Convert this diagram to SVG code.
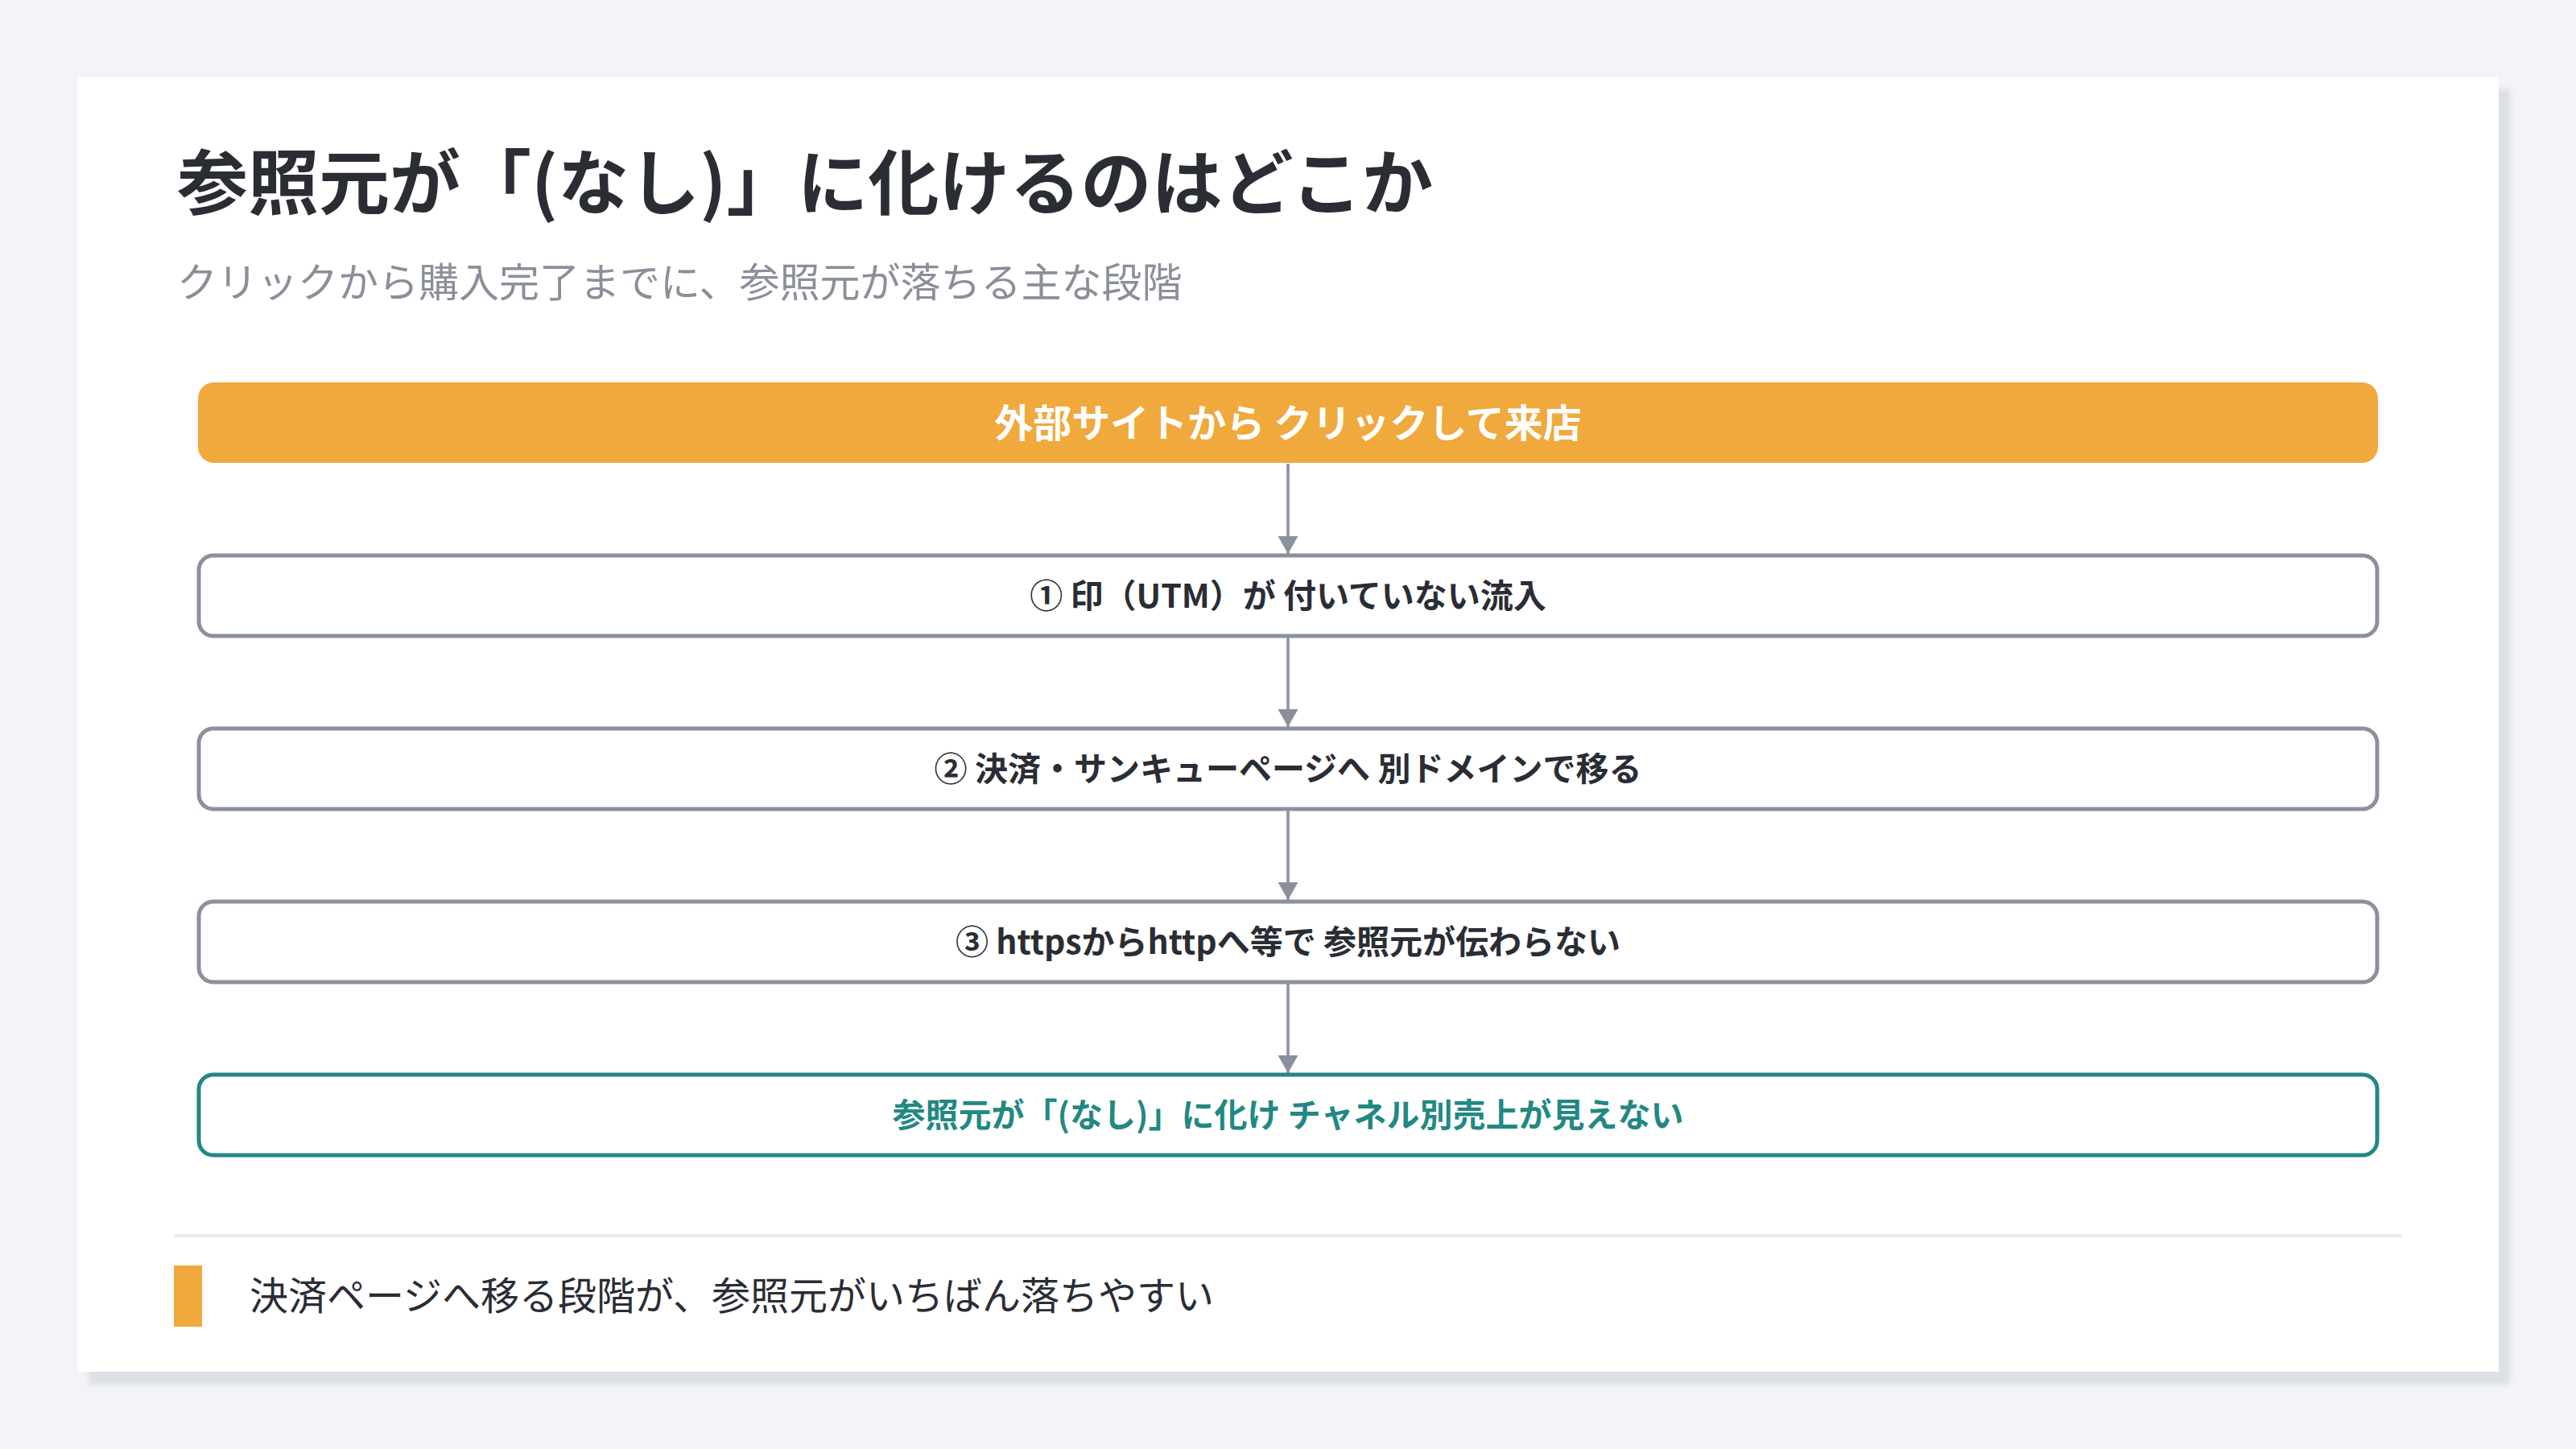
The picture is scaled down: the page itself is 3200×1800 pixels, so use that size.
<svg xmlns="http://www.w3.org/2000/svg" width="3200" height="1800" viewBox="0 0 3200 1800">
  <style>
    .jp { font-family: "Noto Sans CJK JP", "Noto Sans", sans-serif; }
    .title { font-size: 88px; font-weight: 700; fill: #2a2d34; }
    .sub { font-size: 50px; font-weight: 400; fill: #8a8f99; }
    .box { fill: #ffffff; stroke: #8a919d; stroke-width: 5; }
    .boxtxt { font-size: 41px; font-weight: 700; fill: #2a2d34; text-anchor: middle; }
    .conn { stroke: #8a919d; stroke-width: 3.5; fill: none; }
    .foot { font-size: 48px; font-weight: 400; fill: #2a2d34; }
  </style>
  <defs>
    <marker id="arr" markerUnits="userSpaceOnUse" markerWidth="26" markerHeight="26" refX="22" refY="12.5" orient="auto">
      <path d="M0,0 L22,12.5 L0,25 Z" fill="#8a919d"/>
    </marker>
    <filter id="sh" x="-5%" y="-5%" width="110%" height="110%">
      <feGaussianBlur stdDeviation="3"/>
    </filter>
  </defs>
  <rect x="0" y="0" width="3200" height="1800" fill="#f3f4f8"/>
  <rect x="110" y="110" width="3008" height="1610" fill="#dcdfe6" filter="url(#sh)"/>
  <rect x="96" y="96" width="3008" height="1608" fill="#ffffff"/>

  <text class="jp title" x="220" y="259">参照元が「(なし)」に化けるのはどこか</text>
  <text class="jp sub" x="220" y="369">クリックから購入完了までに、参照元が落ちる主な段階</text>

  <g id="connectors">
    <line class="conn" x1="1600" y1="576" x2="1600" y2="688" marker-end="url(#arr)"/>
    <line class="conn" x1="1600" y1="792" x2="1600" y2="903" marker-end="url(#arr)"/>
    <line class="conn" x1="1600" y1="1007" x2="1600" y2="1118" marker-end="url(#arr)"/>
    <line class="conn" x1="1600" y1="1222" x2="1600" y2="1333" marker-end="url(#arr)"/>
  </g>

  <g id="node-start">
    <rect x="246" y="475" width="2708" height="100" rx="20" fill="#efa93c"/>
    <text class="jp boxtxt" x="1600" y="543" style="font-size:48px; fill:#ffffff">外部サイトから クリックして来店</text>
  </g>
  <g id="node-1">
    <rect class="box" x="247" y="690" width="2706" height="100" rx="18"/>
    <text class="jp boxtxt" x="1600" y="755">① 印（UTM）が 付いていない流入</text>
  </g>
  <g id="node-2">
    <rect class="box" x="247" y="905" width="2706" height="100" rx="18"/>
    <text class="jp boxtxt" x="1600" y="970">② 決済・サンキューページへ 別ドメインで移る</text>
  </g>
  <g id="node-3">
    <rect class="box" x="247" y="1120" width="2706" height="100" rx="18"/>
    <text class="jp boxtxt" x="1600" y="1185">③ httpsからhttpへ等で 参照元が伝わらない</text>
  </g>
  <g id="node-4">
    <rect class="box" x="247" y="1335" width="2706" height="100" rx="18" style="stroke:#228882"/>
    <text class="jp boxtxt" x="1600" y="1400" style="fill:#228882">参照元が「(なし)」に化け チャネル別売上が見えない</text>
  </g>

  <line x1="216" y1="1535" x2="2984" y2="1535" stroke="#e6e8ed" stroke-width="3"/>
  <rect x="216" y="1572" width="35" height="76" fill="#efa93c"/>
  <text class="jp foot" x="310" y="1627">決済ページへ移る段階が、参照元がいちばん落ちやすい</text>
</svg>
